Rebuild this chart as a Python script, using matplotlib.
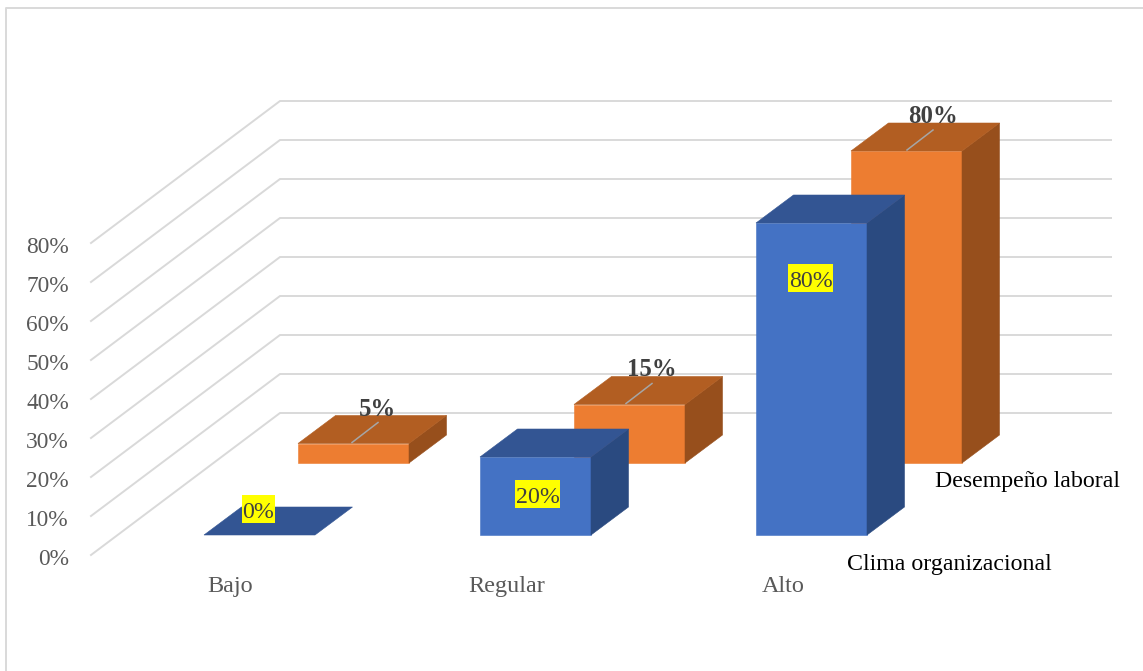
import matplotlib
matplotlib.use('Agg')
import matplotlib.pyplot as plt
from matplotlib.patches import Polygon, Rectangle

categories = ['Bajo', 'Regular', 'Alto']
clima = [0, 20, 80]
desempeno = [5, 15, 80]
tick_values = [0, 10, 20, 30, 40, 50, 60, 70, 80]
series_names = ['Clima organizacional', 'Desempeño laboral']

plt.rcParams['font.family'] = ['Liberation Serif', 'DejaVu Serif']

fig = plt.figure(figsize=(11.43, 6.71), dpi=100)
ax = fig.add_axes([0, 0, 1, 1])
# axes use the picture's own pixels, top to bottom
ax.set_xlim(0, 1143)
ax.set_ylim(671, 0)
ax.axis('off')

# chart frame, only left and top show in the picture
ax.plot([6, 6, 1143], [671, 8, 8], color='#d9d9d9', lw=1.4)

# oblique projection settings
px_per_pct = 3.9
wall_x0, wall_x1 = 91, 280
floor_front, floor_back = 555, 413
bar_w = 111
bar_dx, bar_dy = 37.5, -28


def level(value, base):
    return base - value * px_per_pct


# gridlines: side wall then back wall
for t in tick_values:
    ax.plot([wall_x0, wall_x1, 1111], [level(t, floor_front), level(t, floor_back), level(t, floor_back)],
            color='#d9d9d9', lw=1.4, solid_joinstyle='miter', zorder=1)
    ax.text(69, level(t, floor_front) + 10, '%d%%' % t, ha='right', va='baseline', fontsize=16.8, color='#595959')


def draw_bar(x, base, value, front, top, side, z):
    y = level(value, base)
    if value > 0:
        ax.add_patch(Polygon([(x, base), (x + bar_w, base), (x + bar_w, y), (x, y)],
                             fc=front, ec=front, lw=0.4, zorder=z))
        ax.add_patch(Polygon([(x + bar_w, base), (x + bar_w + bar_dx, base + bar_dy),
                              (x + bar_w + bar_dx, y + bar_dy), (x + bar_w, y)],
                             fc=side, ec=side, lw=0.4, zorder=z))
    ax.add_patch(Polygon([(x, y), (x + bar_w, y), (x + bar_w + bar_dx, y + bar_dy), (x + bar_dx, y + bar_dy)],
                         fc=top, ec=top, lw=0.4, zorder=z))


blue_x = [204, 480, 756]
orange_x = [298, 574, 851]
blue_base = 535
orange_base = 463
bold_x = [378, 652, 933]
box_x = [258.5, 537.5, 810.5]
box_base = [518, 503, 287]

renderer = fig.canvas.get_renderer()

for i in range(len(categories)):
    # back series first so the front one covers it
    draw_bar(orange_x[i], orange_base, desempeno[i], '#ed7d31', '#b25e22', '#974f1c', 2)
    draw_bar(blue_x[i], blue_base, clima[i], '#4472c4', '#335593', '#2a4a80', 3)

    # orange labels sit on the top face with a thin leader
    top_y = level(desempeno[i], orange_base)
    ax.plot([bold_x[i] - 26, bold_x[i]], [top_y - 1, top_y - 21], color='#a6a6a6', lw=1.1, zorder=4)
    ax.text(bold_x[i], top_y - 28, '%d%%' % desempeno[i], ha='center', va='baseline', fontsize=17.8,
            fontweight='bold', color='#404040', zorder=5)

    # blue labels on a yellow highlight, sized from the text itself
    lab = ax.text(box_x[i], box_base[i], '%d%%' % clima[i], ha='center', va='baseline', fontsize=17.2,
                  color='#404040', zorder=7)
    w = lab.get_window_extent(renderer).width + 2
    ax.add_patch(Rectangle((box_x[i] - w / 2, box_base[i] - 23.5), w, 28, fc='#ffff00', ec='none', zorder=6))

# category labels
cat_x = [230.5, 507, 783]
for i in range(len(categories)):
    ax.text(cat_x[i], 592, categories[i], ha='center', va='baseline', fontsize=17.4, color='#595959')

# series names along the depth axis
ax.text(847, 570, series_names[0], ha='left', va='baseline', fontsize=17.2, color='#000000')
ax.text(935, 487, series_names[1], ha='left', va='baseline', fontsize=17.2, color='#000000')

fig.savefig('out.png', dpi=100)
